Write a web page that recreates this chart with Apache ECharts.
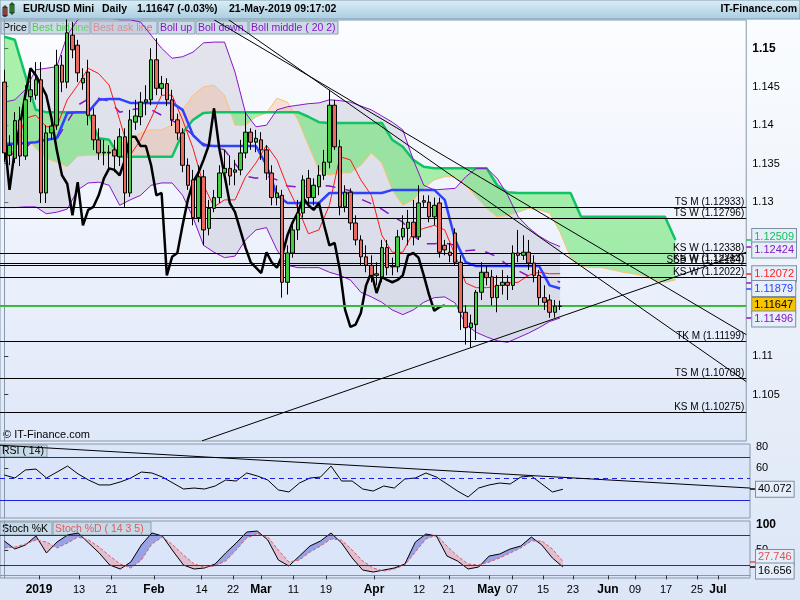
<!DOCTYPE html>
<html><head><meta charset="utf-8">
<script src="https://cdn.jsdelivr.net/npm/echarts@6/dist/echarts.min.js"></script>
<style>html,body{margin:0;padding:0;background:#e4ecf8;}#c{width:800px;height:600px;}</style>
</head><body><div id="c"></div>
<script>
// ---------- DATA (daily candles, index 0 = first visible candle) ----------
const candleOpen=[1.1456,1.1361,1.1357,1.1407,1.1360,1.1437,1.1439,1.1459,1.1312,1.1390,
1.1400,1.1478,1.1456,1.1517,1.1504,1.1455,1.1469,1.1413,1.1381,1.1364,
1.1365,1.1368,1.1359,1.1385,1.1312,1.1404,1.1411,1.1430,1.1433,1.1485,
1.1448,1.1454,1.1433,1.1407,1.1390,1.1348,1.1329,1.1280,1.1333,1.1266,
1.1292,1.1306,1.1338,1.1344,1.1339,1.1342,1.1364,1.1391,1.1378,1.1381,
1.1368,1.1338,1.1306,1.1309,1.1196,1.1234,1.1264,1.1286,1.1331,1.1306,
1.1320,1.1335,1.1352,1.1426,1.1372,1.1294,1.1313,1.1273,1.1251,1.1229,
1.1218,1.1205,1.1203,1.1241,1.1217,1.1216,1.1255,1.1266,1.1274,1.1255,
1.1302,1.1300,1.1281,1.1299,1.1244,1.1235,1.1260,1.1222,1.1157,1.1137,
1.1141,1.1183,1.1209,1.1203,1.1176,1.1192,1.1196,1.1192,1.1234,1.1231,
1.1235,1.1221,1.1205,1.1176,1.1173,1.1157,1.1165];
const candleClose=[1.1364,1.1374,1.1406,1.1360,1.1433,1.1446,1.1459,1.1312,1.1390,1.1399,
1.1478,1.1456,1.1520,1.1498,1.1468,1.1461,1.1413,1.1381,1.1364,1.1365,
1.1364,1.1360,1.1385,1.1312,1.1407,1.1412,1.1430,1.1433,1.1485,1.1448,
1.1454,1.1433,1.1407,1.1390,1.1348,1.1322,1.1280,1.1333,1.1264,1.1292,
1.1306,1.1338,1.1344,1.1334,1.1342,1.1364,1.1391,1.1378,1.1383,1.1368,
1.1338,1.1306,1.1312,1.1196,1.1234,1.1264,1.1286,1.1329,1.1306,1.1322,
1.1335,1.1352,1.1426,1.1372,1.1294,1.1313,1.1273,1.1251,1.1229,1.1218,
1.1205,1.1207,1.1241,1.1215,1.1216,1.1255,1.1266,1.1274,1.1255,1.1299,
1.1300,1.1281,1.1296,1.1235,1.1238,1.1231,1.1222,1.1157,1.1137,1.1143,
1.1183,1.1209,1.1202,1.1176,1.1192,1.1196,1.1192,1.1234,1.1231,1.1235,
1.1221,1.1205,1.1176,1.1170,1.1157,1.1165,1.11647];
const candleLow=[1.1352,1.1348,1.1351,1.1347,1.1355,1.1430,1.1433,1.1299,1.1299,1.1381,
1.1394,1.1443,1.1448,1.1487,1.1456,1.1446,1.1400,1.1368,1.1355,1.1348,
1.1344,1.1339,1.1347,1.1294,1.1307,1.1394,1.1400,1.1413,1.1426,1.1439,
1.1439,1.1425,1.1399,1.1381,1.1339,1.1316,1.1270,1.1274,1.1244,1.1257,
1.1287,1.1299,1.1329,1.1322,1.1322,1.1335,1.1357,1.1368,1.1365,1.1355,
1.1329,1.1296,1.1296,1.1176,1.1180,1.1228,1.1251,1.1280,1.1296,1.1296,
1.1309,1.1329,1.1344,1.1368,1.1283,1.1287,1.1264,1.1244,1.1218,1.1209,
1.1196,1.1192,1.1196,1.1205,1.1205,1.1209,1.1251,1.1244,1.1244,1.1251,
1.1294,1.1274,1.1270,1.1228,1.1231,1.1222,1.1217,1.1134,1.1115,1.1111,
1.1121,1.1173,1.1192,1.1166,1.1157,1.1180,1.1173,1.1186,1.1222,1.1225,
1.1212,1.1196,1.1166,1.1160,1.1150,1.1150,1.1160];
const candleHigh=[1.1472,1.1387,1.1417,1.1424,1.1452,1.1472,1.1482,1.1482,1.1400,1.1409,
1.1498,1.1491,1.1539,1.1534,1.1511,1.1474,1.1485,1.1422,1.1396,1.1381,
1.1374,1.1381,1.1396,1.1396,1.1420,1.1433,1.1443,1.1452,1.1500,1.1513,
1.1464,1.1461,1.1446,1.1415,1.1396,1.1357,1.1342,1.1348,1.1342,1.1303,
1.1316,1.1348,1.1368,1.1361,1.1355,1.1381,1.1417,1.1396,1.1394,1.1391,
1.1374,1.1348,1.1322,1.1316,1.1244,1.1270,1.1303,1.1335,1.1342,1.1331,
1.1348,1.1368,1.1446,1.1433,1.1381,1.1322,1.1318,1.1283,1.1257,1.1244,
1.1231,1.1222,1.1251,1.1251,1.1228,1.1264,1.1283,1.1290,1.1303,1.1322,
1.1309,1.1309,1.1306,1.1306,1.1251,1.1247,1.1266,1.1231,1.1166,1.1154,
1.1186,1.1222,1.1218,1.1212,1.1205,1.1212,1.1205,1.1244,1.1264,1.1257,
1.1251,1.1231,1.1212,1.1192,1.1180,1.1173,1.1172];

// indicators sampled every 2nd candle (index 0,2,4,...)
const bollUp=[1.1430,1.1433,1.1446,1.1472,1.1474,1.1476,1.1517,1.1537,1.1543,1.1543,
1.1539,1.1537,1.1537,1.1534,1.1517,1.1500,1.1487,1.1489,1.1495,1.1507,
1.1508,1.1508,1.1469,1.1416,1.1398,1.1400,1.1420,1.1424,1.1426,1.1428,
1.1429,1.1433,1.1432,1.1430,1.1425,1.1420,1.1412,1.1404,1.1394,1.1355,
1.1322,1.1316,1.1317,1.1318,1.1333,1.1344,1.1344,1.1331,1.1309,1.1281,
1.1267,1.1256,1.1248,1.12424];
const bollDown=[1.1293,1.1293,1.1294,1.1294,1.1285,1.1287,1.1291,1.1316,1.1325,1.1326,
1.1322,1.1296,1.1303,1.1309,1.1322,1.1325,1.1325,1.1309,1.1280,1.1244,
1.1235,1.1228,1.1230,1.1251,1.1264,1.1267,1.1238,1.1218,1.1215,1.1215,
1.1215,1.1209,1.1205,1.1199,1.1183,1.1177,1.1170,1.1160,1.1154,1.1160,
1.1170,1.1176,1.1177,1.1169,1.1141,1.1131,1.1125,1.1120,1.1118,1.1124,
1.1130,1.1137,1.1145,1.11496];
const bollMiddle=[1.1361,1.1363,1.1370,1.1383,1.1380,1.1382,1.1404,1.1426,1.1434,1.1435,
1.1431,1.1417,1.1420,1.1422,1.1420,1.1413,1.1406,1.1399,1.1387,1.1376,
1.1372,1.1368,1.1350,1.1334,1.1331,1.1334,1.1329,1.1321,1.1320,1.1321,
1.1322,1.1321,1.1318,1.1315,1.1304,1.1298,1.1291,1.1282,1.1274,1.1257,
1.1246,1.1246,1.1247,1.1244,1.1237,1.1238,1.1235,1.1229,1.1218,1.1211,
1.1204,1.1203,1.1202,1.11960];
const tenkan=[1.1355,1.1368,1.1409,1.1413,1.1398,1.1398,1.1433,1.1452,1.1474,1.1467,
1.1452,1.1407,1.1361,1.1381,1.1409,1.1439,1.1439,1.1407,1.1370,1.1322,
1.1294,1.1303,1.1303,1.1333,1.1351,1.1374,1.1355,1.1320,1.1292,1.1259,
1.1264,1.1296,1.1359,1.1355,1.1329,1.1309,1.1257,1.1235,1.1235,1.1261,
1.1266,1.1270,1.1264,1.1231,1.1195,1.1189,1.1189,1.1191,1.1195,1.1196,
1.1205,1.1209,1.1207,1.12072];
const kijun=[1.1376,1.1376,1.1377,1.1378,1.1381,1.1383,1.1416,1.1417,1.1417,1.1433,
1.1434,1.1434,1.1429,1.1429,1.1429,1.1429,1.1429,1.1420,1.1387,1.1374,
1.1373,1.1373,1.1373,1.1373,1.1373,1.1348,1.1309,1.1299,1.1299,1.1299,
1.1299,1.1312,1.1312,1.1312,1.1312,1.1312,1.1312,1.1316,1.1316,1.1316,
1.1316,1.1316,1.1303,1.1251,1.1222,1.1217,1.1217,1.1217,1.1217,1.1217,
1.1217,1.1217,1.1192,1.11879];
// cloud spans (every 2nd index, extending into the future)
const spanGreen=[1.1515,1.1511,1.1465,1.1420,1.1417,1.1417,1.1417,1.1417,1.1417,1.1383,
1.1381,1.1359,1.1359,1.1359,1.1359,1.1359,1.1359,1.1390,1.1407,1.1416,
1.1417,1.1417,1.1417,1.1417,1.1417,1.1417,1.1417,1.1417,1.1417,1.1411,
1.1404,1.1403,1.1403,1.1403,1.1403,1.1403,1.1403,1.1381,1.1372,1.1355,
1.1346,1.1344,1.1344,1.1344,1.1344,1.1344,1.1344,1.1322,1.1313,1.1312,
1.1312,1.1312,1.1312,1.1312,1.1312,1.1281,1.1281,1.1281,1.1281,1.1281,
1.1281,1.1281,1.1281,1.1281,1.12509];
const spanOrange=[1.1355,1.1368,1.1387,1.1370,1.1357,1.1352,1.1346,1.1360,1.1361,1.1361,
1.1361,1.1376,1.1381,1.1390,1.1394,1.1394,1.1400,1.1420,1.1439,1.1450,
1.1452,1.1439,1.1400,1.1400,1.1411,1.1416,1.1435,1.1430,1.1407,1.1374,
1.1342,1.1335,1.1338,1.1338,1.1348,1.1364,1.1351,1.1316,1.1296,1.1303,
1.1318,1.1329,1.1333,1.1333,1.1322,1.1307,1.1292,1.1281,1.1283,1.1287,
1.1292,1.1290,1.1286,1.1261,1.1228,1.1217,1.1215,1.1215,1.1212,1.1209,
1.1207,1.1204,1.1199,1.1196,1.1199];
// lagging line, one value per candle
const chikou=[1.1385,1.1316,1.1368,1.1400,1.1439,1.1474,1.1465,1.1452,1.1439,1.1409,
1.1368,1.1335,1.1324,1.1283,1.1326,1.1270,1.1290,1.1294,1.1309,1.1331,
1.1344,1.1342,1.1335,1.1355,1.1385,1.1385,1.1373,1.1373,1.1348,1.1309,
1.1312,1.1205,1.1229,1.1234,1.1270,1.1303,1.1326,1.1338,1.1355,1.1374,
1.1422,1.1370,1.1335,1.1299,1.1287,1.1264,1.1241,1.1222,1.1215,1.1208,
1.1235,1.1222,1.1215,1.1231,1.1257,1.1274,1.1287,1.1306,1.1296,1.1290,
1.1299,1.1270,1.1244,1.1247,1.1212,1.1160,1.1138,1.1141,1.1156,1.1192,
1.1209,1.1182,1.1203,1.1199,1.1196,1.1199,1.1205,1.1231,1.1234,1.1228,
1.1205,1.1180,1.1159,1.1164,1.1166];
const rsi=[53.4,50.6,58.1,59.0,50.6,56.2,61.8,54.4,48.7,44.1,
44.1,46.9,50.6,56.2,55.3,51.5,45.9,40.3,41.2,40.3,
43.1,48.7,47.8,55.3,52.5,48.7,39.4,37.5,45.9,50.6,
51.5,61.8,47.8,47.8,40.3,38.4,43.1,41.2,49.7,50.6,
55.3,51.5,45.0,38.4,32.8,41.2,44.1,45.9,45.0,51.5,
52.5,45.0,37.5,40.072];
const stochK=[68.1,52.3,60.2,78.0,44.4,66.1,80.0,84.0,64.2,44.4,
20.6,12.7,26.5,60.2,84.0,78.0,48.3,20.6,12.7,14.7,
22.6,44.4,64.2,85.9,87.9,70.1,30.5,18.6,38.4,58.2,
68.1,84.0,64.2,34.5,10.7,6.7,10.7,14.7,22.6,66.1,
82.0,78.0,38.4,28.5,12.7,16.6,38.4,42.4,52.3,58.2,
76.0,60.2,34.5,16.656];
const stochD=[54.3,56.2,62.2,70.1,66.1,54.3,64.2,76.0,70.1,56.2,
38.4,22.6,14.7,30.5,62.2,76.0,60.2,40.4,22.6,16.6,
18.6,28.5,50.3,74.1,82.0,76.0,50.3,26.5,30.5,46.3,
58.2,72.1,70.1,50.3,28.5,14.7,8.7,12.7,20.6,46.3,
72.1,80.0,58.2,38.4,22.6,20.6,26.5,34.5,44.4,54.3,
68.1,68.1,52.3,27.746];
// horizontal levels
const levelNames=['TS M','TS W','KS W','KS W','SSB W','KS W','TK M','TS M','KS M'];
const levelValues=[1.12933,1.12796,1.12338,1.12213,1.12184,1.12022,1.11199,1.10708,1.10275];
const bidPrice=1.11647, askPrice=1.11660;
// trend lines [index, value]
const trendDownA=[[42.8,1.1537],[141.5,1.1067]];
const trendDownB=[[40.0,1.1537],[141.5,1.1128]];
const trendUp=[[37.7,1.0990],[141.5,1.1235]];
const rsiTrend=[[-0.82,81.3],[141.5,41.2]];
// date axis labels
const dateTickPos=[6.58,14.17,20.34,28.41,37.42,43.40,48.71,54.88,61.04,70.15,78.69,84.38,91.97,96.34,102.22,107.91,114.55,119.68,125.56,131.44,135.43];
const dateTickText=['2019','13','21','Feb','14','22','Mar','11','19','Apr','12','21','May','07','15','23','Jun','09','17','25','Jul'];
const dateTickBold=[1,0,0,1,0,0,1,0,0,1,0,0,1,0,0,0,1,0,0,0,1];
const priceTicks=[1.105,1.11,1.13,1.135,1.14,1.145,1.15];
const rsiTicks=[80,60];
const stochTicks=[100,50];

// ---------- helpers ----------
const XMIN=-0.82, XMAX=141.5;
const PMIN=1.09898, PMAX=1.15367, RMIN=13.14, RMAX=82.46, SMIN=-5.1, SMAX=107.7;
const FONT='Liberation Sans, Arial, sans-serif';
const pts=(arr,step,start)=>arr.map((v,k)=>[start+k*step,v]);
function bandPolys(xs,a,b){
  const polys=[];let cur=null;
  for(let k=0;k<xs.length;k++){
    const d=a[k]-b[k], s=d>=0;
    if(!cur){cur={sign:s,top:[[xs[k],a[k]]],bot:[[xs[k],b[k]]]};continue;}
    if(s===cur.sign){cur.top.push([xs[k],a[k]]);cur.bot.push([xs[k],b[k]]);}
    else{
      const d0=a[k-1]-b[k-1], t=d0/(d0-d);
      const xi=xs[k-1]+t*(xs[k]-xs[k-1]), yi=a[k-1]+t*(a[k]-a[k-1]);
      cur.top.push([xi,yi]);cur.bot.push([xi,yi]);polys.push(cur);
      cur={sign:s,top:[[xi,yi],[xs[k],a[k]]],bot:[[xi,yi],[xs[k],b[k]]]};
    }
  }
  polys.push(cur);
  return polys.map(p=>({sign:p.sign,pts:p.top.concat(p.bot.slice().reverse())}));
}
function fillSeries(polys,colUp,colDown,xi,yi,z){
  return {type:'custom',xAxisIndex:xi,yAxisIndex:yi,z:z,silent:true,clip:true,
    data:polys.map((p,i)=>[p.pts[0][0],p.pts[0][1],i]),encode:{x:0,y:1},
    renderItem:function(params,api){
      const p=polys[api.value(2)];
      return {type:'polygon',shape:{points:p.pts.map(q=>api.coord(q))},style:{fill:p.sign?colUp:colDown}};
    }};
}
// keep value boxes on the right axis from overlapping (layout only)
function spreadBoxes(defs,vmin,vmax,hPx,gapPx){
  const gap=gapPx*(vmax-vmin)/hPx;
  const items=defs.filter(d=>!d.behind).map(d=>({d,pos:d.v}));
  items.sort((a,b)=>b.pos-a.pos);
  for(let it=0;it<60;it++){
    for(let i=0;i<items.length-1;i++){
      const diff=items[i].pos-items[i+1].pos;
      if(diff<gap){const m=(gap-diff)/2;items[i].pos+=m;items[i+1].pos-=m;}
    }
  }
  items.forEach(o=>{o.d.pos=o.pos;});
  defs.forEach(d=>{if(d.pos===undefined)d.pos=d.v;});
  return defs;
}
const idx2=bollUp.map((v,k)=>k*2);
const bbPoly=bandPolys(idx2,bollUp,bollDown);
const cloudIdx=spanGreen.map((v,k)=>k*2);
const cloudPoly=bandPolys(cloudIdx,spanGreen,spanOrange);
const stochPoly=bandPolys(idx2,stochK,stochD);
const candles=candleOpen.map((o,i)=>[i,o,candleClose[i],candleLow[i],candleHigh[i]]);
const last=a=>a[a.length-1];

const STY={pu:'#8a14c8',gr:'#12c060',re:'#ff2020',bl:'#2a44ff',pr:'#000',bk:'#000',rd:'#e05050'};
const boxDefs=spreadBoxes([
 {v:last(bollMiddle),s:'pu',behind:true},{v:last(spanGreen),s:'gr'},{v:last(bollUp),s:'pu'},
 {v:last(tenkan),s:'re'},{v:last(kijun),s:'bl'},{v:last(candleClose),s:'pr',noTick:true},{v:last(bollDown),s:'pu'}],PMIN,PMAX,421,13.5);
const rsiBox=spreadBoxes([{v:last(rsi),s:'bk'}],RMIN,RMAX,74,13.5);
const stochBox=spreadBoxes([{v:last(stochD),s:'rd'},{v:last(stochK),s:'bk'}],SMIN,SMAX,57,13.5);

const lineS=(name,data,color,width,xi,yi,z,type)=>({name,type:'line',data,xAxisIndex:xi,yAxisIndex:yi,z:z,
  symbol:'none',silent:true,lineStyle:{color,width,type:type||'solid'},animation:false});

const axisGray='#8898aa';
function hiddenX(g){return {type:'value',gridIndex:g,min:XMIN,max:XMAX,show:false};}
// one axis per value box so none of them is dropped by overlap handling
function boxAxes(g,vmin,vmax,defs,dec){
  return defs.map(d=>({type:'value',gridIndex:g,position:'right',min:vmin,max:vmax,
   axisLine:{show:false},splitLine:{show:false},
   axisTick:{show:!d.noTick,customValues:[d.v],length:5,lineStyle:{color:STY[d.s],width:1.5}},
   axisLabel:{customValues:[d.pos],margin:6,fontSize:11,fontFamily:FONT,
     color:STY[d.s],padding:[2,2,1,2],borderColor:'#7d8ea0',borderWidth:1,lineHeight:12,
     backgroundColor:d.s==='pr'?'#f8c400':'#e6eefa',
     formatter:()=>d.v.toFixed(dec)}}));
}
const yAxes=[];
const Y_MAIN=yAxes.length;
yAxes.push({type:'value',gridIndex:0,position:'right',min:PMIN,max:PMAX,
   axisLine:{show:true,lineStyle:{color:axisGray}},splitLine:{show:false},
   axisTick:{show:true,customValues:priceTicks,length:4,lineStyle:{color:'#333'}},
   axisLabel:{customValues:priceTicks,margin:6,fontSize:11,color:'#000',fontFamily:FONT,
     formatter:v=>Math.abs(v-1.15)<1e-9?'{b|1.15}':String(+v.toFixed(3)),
     rich:{b:{fontWeight:'bold',fontSize:12,color:'#000',fontFamily:FONT}}}});
yAxes.push(...boxAxes(0,PMIN,PMAX,boxDefs,5));
const Y_RSI=yAxes.length;
yAxes.push({type:'value',gridIndex:1,position:'right',min:RMIN,max:RMAX,
   axisLine:{show:true,lineStyle:{color:axisGray}},splitLine:{show:false},
   axisTick:{show:true,customValues:rsiTicks,length:4,lineStyle:{color:'#333'}},
   axisLabel:{customValues:rsiTicks,margin:6,fontSize:11,color:'#000',fontFamily:FONT}});
yAxes.push(...boxAxes(1,RMIN,RMAX,rsiBox,3));
const Y_STO=yAxes.length;
yAxes.push({type:'value',gridIndex:2,position:'right',min:SMIN,max:SMAX,
   axisLine:{show:true,lineStyle:{color:axisGray}},splitLine:{show:false},
   axisTick:{show:true,customValues:stochTicks,length:4,lineStyle:{color:'#333'}},
   axisLabel:{customValues:stochTicks,margin:6,fontSize:11,color:'#000',fontFamily:FONT,
     formatter:v=>v===100?'{b|100}':String(v),rich:{b:{fontWeight:'bold',fontSize:12,color:'#000'}}}});
yAxes.push(...boxAxes(2,SMIN,SMAX,stochBox,3));

const legendBox=(x,y,w,h)=>({type:'rect',shape:{x,y,width:w,height:h},style:{fill:'rgba(196,214,228,0.9)',stroke:'#8aa0b4'}});
const legendText=(x,y,t,c)=>({type:'text',x,y,style:{text:t,font:'10.5px '+FONT,fill:c}});
const headText=(x,t,align)=>({type:'text',z:101,x,y:4,style:{text:t,font:'bold 10.5px '+FONT,fill:'#000',align:align||'left'}});

const chart=echarts.init(document.getElementById('c'),null,{renderer:'canvas'});
const option={
 animation:false,
 backgroundColor:{type:'linear',x:0,y:0,x2:0,y2:1,colorStops:[{offset:0,color:'#fbfdff'},{offset:1,color:'#dce6f6'}]},
 textStyle:{fontFamily:FONT},
 grid:[
  {left:0,top:20,width:750,height:421,show:true,borderColor:axisGray,borderWidth:1,
   backgroundColor:{type:'linear',x:0,y:0,x2:0,y2:1,colorStops:[{offset:0,color:'#fcfdff'},{offset:1,color:'#dfe8f9'}]}},
  {left:0,top:444,width:750,height:74,show:true,borderColor:axisGray,borderWidth:1,backgroundColor:'#dbe5f9'},
  {left:0,top:521,width:750,height:57,show:true,borderColor:axisGray,borderWidth:1,backgroundColor:'#dbe5f9'}
 ],
 xAxis:[hiddenX(0),hiddenX(1),
  {type:'value',gridIndex:2,min:XMIN,max:XMAX,position:'bottom',
   axisLine:{show:true,lineStyle:{color:axisGray}},
   axisTick:{show:true,customValues:dateTickPos,length:4,lineStyle:{color:'#333'}},
   splitLine:{show:false},
   axisLabel:{customValues:dateTickPos,margin:6,fontSize:11,color:'#000',fontFamily:FONT,
     formatter:function(v){let k=0,bd=1e9;dateTickPos.forEach((p,i)=>{const e=Math.abs(p-v);if(e<bd){bd=e;k=i;}});
       return dateTickBold[k]?'{b|'+dateTickText[k]+'}':dateTickText[k];},
     rich:{b:{fontWeight:'bold',fontSize:12,color:'#000',fontFamily:FONT}}}}],
 yAxis:yAxes,
 series:[
  fillSeries(bbPoly,'rgba(190,190,205,0.38)','rgba(190,190,205,0.38)',0,Y_MAIN,1),
  fillSeries(cloudPoly,'rgba(70,228,70,0.45)','rgba(245,170,130,0.32)',0,Y_MAIN,2),
  lineS('spanOrange',pts(spanOrange,2,0),'#ffc070',1,0,Y_MAIN,3),
  lineS('spanGreen',pts(spanGreen,2,0),'#10c464',2.5,0,Y_MAIN,3),
  lineS('bollUp',pts(bollUp,2,0),'#8a14c8',1,0,Y_MAIN,4),
  lineS('bollDown',pts(bollDown,2,0),'#8a14c8',1,0,Y_MAIN,4),
  lineS('bollMiddle',pts(bollMiddle,2,0),'#8a14c8',1.5,0,Y_MAIN,4,[10,10]),
  lineS('tenkan',pts(tenkan,2,0),'#ff1818',1,0,Y_MAIN,4),
  lineS('kijun',pts(kijun,2,0),'#3040ff',2.5,0,Y_MAIN,4),
  lineS('chikou',pts(chikou,1,0),'#000',2.5,0,Y_MAIN,4),
  Object.assign(lineS('trendA',trendDownA,'#000',1,0,Y_MAIN,5),{
    markLine:{symbol:'none',silent:true,animation:false,precision:5,
      lineStyle:{color:'#000',width:1,type:'solid'},
      label:{position:'insideEndTop',distance:[2,0],fontSize:10,color:'#000',fontFamily:FONT,
        formatter:p=>p.name+' ('+Number(p.value).toFixed(5)+')'},
      data:levelNames.map((n,i)=>({name:n,yAxis:levelValues[i]})).concat([
        {name:'bid',yAxis:bidPrice,lineStyle:{color:'#40c040'},label:{show:false}},
        {name:'ask',yAxis:askPrice,lineStyle:{color:'#f05050'},label:{show:false}}])}}),
  lineS('trendB',trendDownB,'#000',1,0,Y_MAIN,5),
  lineS('trendUp',trendUp,'#000',1,0,Y_MAIN,5),
  {name:'Price',type:'candlestick',xAxisIndex:0,yAxisIndex:Y_MAIN,z:6,data:candles,encode:{x:0,y:[1,2,3,4]},
   barWidth:4,silent:true,itemStyle:{color:'#42cc42',color0:'#e86a60',borderColor:'#000',borderColor0:'#000',borderWidth:1}},
  Object.assign(lineS('rsi',pts(rsi,2,0),'#000',1,1,Y_RSI,4),{
    markLine:{symbol:'none',silent:true,animation:false,precision:3,label:{show:false},
      data:[{yAxis:70,lineStyle:{color:'#2020e0',width:1,type:'solid'}},
            {yAxis:30,lineStyle:{color:'#2020e0',width:1,type:'solid'}},
            {yAxis:50,lineStyle:{color:'#2020e0',width:1,type:[5,4]}}]}}),
  lineS('rsiTrend',rsiTrend,'#000',1,1,Y_RSI,5),
  fillSeries(stochPoly,'rgba(70,80,205,0.45)','rgba(232,150,165,0.5)',2,Y_STO,1),
  Object.assign(lineS('stochK',pts(stochK,2,0),'#000',1,2,Y_STO,4),{
    markLine:{symbol:'none',silent:true,animation:false,precision:3,label:{show:false},
      data:[{yAxis:80,lineStyle:{color:'#2020e0',width:1,type:'solid'}},
            {yAxis:20,lineStyle:{color:'#2020e0',width:1,type:'solid'}}]}}),
  lineS('stochD',pts(stochD,2,0),'#e05a5a',1,2,Y_STO,4,[3,2])
 ],
 graphic:[
  {type:'rect',z:100,shape:{x:0,y:0,width:800,height:19},
   style:{fill:{type:'linear',x:0,y:0,x2:0,y2:1,colorStops:[{offset:0,color:'#ddeef6'},{offset:1,color:'#a9cde0'}]},stroke:'#7d9db2',lineWidth:1}},
  {type:'rect',z:101,shape:{x:3,y:7,width:4,height:9},style:{fill:'#e86a60',stroke:'#000',lineWidth:0.8}},
  {type:'line',z:101,shape:{x1:5,y1:5,x2:5,y2:17},style:{stroke:'#000',lineWidth:0.8}},
  {type:'rect',z:101,shape:{x:10,y:4,width:4,height:9},style:{fill:'#42cc42',stroke:'#000',lineWidth:0.8}},
  {type:'line',z:101,shape:{x1:12,y1:2,x2:12,y2:15},style:{stroke:'#000',lineWidth:0.8}},
  headText(23,'EUR/USD Mini'),
  headText(102,'Daily'),
  headText(137,'1.11647 (-0.03%)'),
  headText(229,'21-May-2019 09:17:02'),
  headText(797,'IT-Finance.com','right'),
  {type:'group',z:100,children:[
    legendBox(1,21,28,13),legendText(3,22.5,'Price','#000'),
    legendBox(30,21,60,13),legendText(32,22.5,'Best bid line','#4cd04c'),
    legendBox(91,21,66,13),legendText(93,22.5,'Best ask line','#e87070'),
    legendBox(158,21,37,13),legendText(160,22.5,'Boll up','#8a14c8'),
    legendBox(196,21,52,13),legendText(198,22.5,'Boll down','#8a14c8'),
    legendBox(249,21,89,13),legendText(251,22.5,'Boll middle ( 20 2)','#8a14c8'),
    {type:'text',x:3,y:429,style:{text:'© IT-Finance.com',font:'11px '+FONT,fill:'#000'}},
    legendBox(0,445,47,12),legendText(2,446,'RSI ( 14)','#000'),
    legendBox(0,522,52,13),legendText(2,523.5,'Stoch %K','#000'),
    legendBox(53,522,98,13),legendText(55,523.5,'Stoch %D ( 14 3 5)','#e05a5a')
  ]}
 ]
};
chart.setOption(option);
</script></body></html>
